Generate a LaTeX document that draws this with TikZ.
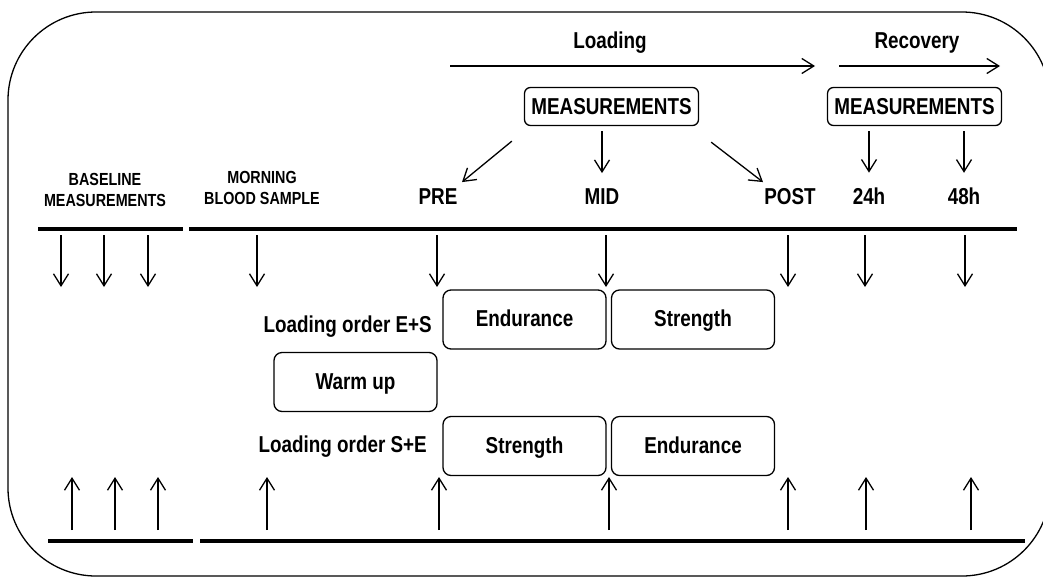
\documentclass[tikz,border=0pt]{standalone}
\usepackage{fontspec}
\setmainfont{Liberation Sans}[FakeStretch=0.82]
\usetikzlibrary{arrows.meta}
\tikzset{
  arr/.style={line width=1.3pt,-{Straight Barb[length=12pt,width=15pt]}},
  rule/.style={line width=4pt},
  phase/.style={draw,line width=1.3pt,rounded corners=8pt,minimum width=163pt,minimum height=59pt,text height=16pt,text depth=2pt},
  measbox/.style={draw,line width=1.3pt,rounded corners=6pt,minimum width=174pt,minimum height=38pt,inner sep=0pt},
  lbl/.style={inner sep=0pt,anchor=base},
  small/.style={font=\bfseries\fontsize{17.5}{20.5}\selectfont,align=center,inner sep=0pt}
}
\begin{document}
\begin{tikzpicture}[x=1pt,y=-1pt,font=\bfseries\fontsize{23}{27}\selectfont]
\clip (0,0) rectangle (1043,579);
\draw[line width=1.3pt,rounded corners=88pt] (8,12) rectangle (1050,576);

\node[inner sep=0pt] (loading) at (610,43) {Loading};
\node[inner sep=0pt] (recovery) at (917,43) {Recovery};
\coordinate (loadA) at (450,66);
\coordinate (loadB) at (815,66);
\coordinate (recA) at (839,66);
\coordinate (recB) at (1000,66);
\draw[arr] (loadA) -- (loadB);
\draw[arr] (recA) -- (recB);

\node[measbox] (meas1) at (611.5,106.5) {MEASUREMENTS};
\node[measbox] (meas2) at (914.5,106.5) {MEASUREMENTS};

\node[small] (base) at (105,190) {BASELINE\\MEASUREMENTS};
\node[small] (morning) at (262,188) {MORNING\\BLOOD SAMPLE};
\node[lbl] (pre) at (438,204) {PRE};
\node[lbl] (mid) at (602,204) {MID};
\node[lbl] (post) at (790,204) {POST};
\node[lbl] (h24) at (869,204) {24h};
\node[lbl] (h48) at (964,204) {48h};

\draw[arr] ([shift={(-12,15)}]meas1.south west) -- ([shift={(24,-14)}]pre.center);
\draw[arr] (mid.center |- meas1.south) ++(0,5) -- ([yshift=23pt]mid.center);
\draw[arr] ([shift={(12,16)}]meas1.south east) -- ([shift={(-27,-14)}]post.center);
\draw[arr] (h24.center |- meas2.south) ++(0,5) -- ([yshift=23pt]h24.center);
\draw[arr] (h48.center |- meas2.south) ++(0,5) -- ([yshift=23pt]h48.center);

\coordinate (topA) at (38,229);
\coordinate (topB) at (183,229);
\coordinate (topC) at (189,229);
\coordinate (topD) at (1017,229);
\coordinate (botA) at (48,541);
\coordinate (botB) at (193,541);
\coordinate (botC) at (200,541);
\coordinate (botD) at (1025,541);
\draw[rule] (topA) -- (topB);
\draw[rule] (topC) -- (topD);
\draw[rule] (botA) -- (botB);
\draw[rule] (botC) -- (botD);

\foreach \x [count=\i] in {61,104,148,257,437,606,788,865,965} {
  \coordinate (dn\i) at (\x,235);
  \coordinate (dnend\i) at (\x,287);
  \draw[arr] (dn\i) -- (dnend\i);
}
\foreach \x [count=\i] in {72,115,158,267,439,609,788,866,971} {
  \coordinate (up\i) at (\x,530);
  \coordinate (upend\i) at (\x,477);
  \draw[arr] (up\i) -- (upend\i);
}

\node[phase] (endES) at (524.5,319.5) {Endurance};
\node[phase] (strES) at (693,319.5) {Strength};
\node[phase] (warm) at (355.5,382) {Warm up};
\node[phase] (strSE) at (524.5,446) {Strength};
\node[phase] (endSE) at (693,446) {Endurance};
\node[inner sep=0pt,anchor=base east] (ordES) at (432,332) {Loading order E+S};
\node[inner sep=0pt,anchor=base east] (ordSE) at (427,452) {Loading order S+E};
\end{tikzpicture}
\end{document}
